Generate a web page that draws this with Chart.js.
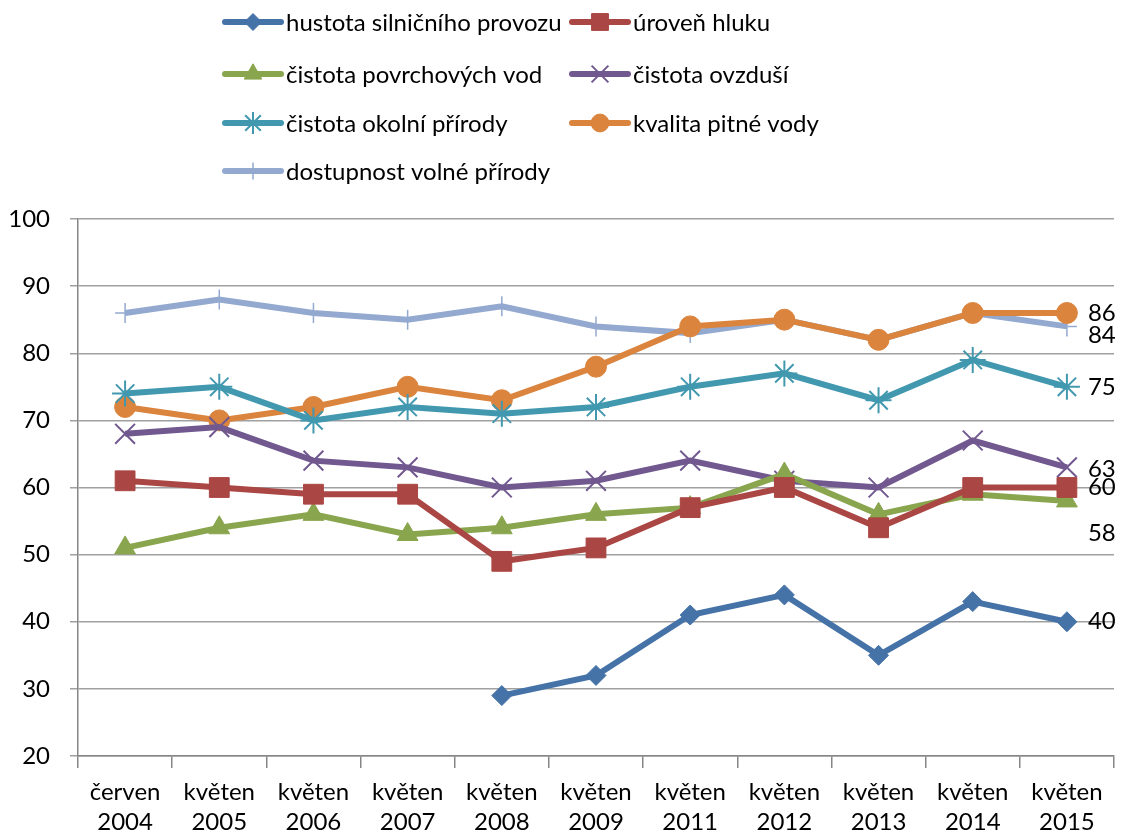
<!DOCTYPE html>
<html>
<head>
<meta charset="utf-8">
<script src="https://cdn.jsdelivr.net/npm/chart.js@4.4.1/dist/chart.umd.min.js"></script>
<style>
  body { margin: 0; background: #fff; }
  #wrap { width: 1122px; height: 832px; }
</style>
</head>
<body>
<div id="wrap"><canvas id="myChart" width="1122" height="832"></canvas></div>
<script>
// categories
var labels = [["červen","2004"],["květen","2005"],["květen","2006"],["květen","2007"],["květen","2008"],
  ["květen","2009"],["květen","2011"],["květen","2012"],["květen","2013"],["květen","2014"],["květen","2015"]];

// series values
var hustota   = [null, null, null, null, 29, 32, 41, 44, 35, 43, 40];
var hluk      = [61, 60, 59, 59, 49, 51, 57, 60, 54, 60, 60];
var vody      = [51, 54, 56, 53, 54, 56, 57, 62, 56, 59, 58];
var ovzdusi   = [68, 69, 64, 63, 60, 61, 64, 61, 60, 67, 63];
var okolni    = [74, 75, 70, 72, 71, 72, 75, 77, 73, 79, 75];
var pitna     = [72, 70, 72, 75, 73, 78, 84, 85, 82, 86, 86];
var dostupnost = [86, 88, 86, 85, 87, 84, 83, 85, 82, 86, 84];

var yTicks = [20, 30, 40, 50, 60, 70, 80, 90, 100];

var FONT = "Lato, 'Open Sans', sans-serif";
var FS = 24;

function ds(label, data, color, style, radius, bw) {
  return {
    label: label, data: data, borderColor: color, backgroundColor: color,
    borderWidth: 6, pointStyle: style, pointRadius: radius, pointHoverRadius: radius,
    pointBorderWidth: bw, pointBackgroundColor: color, pointBorderColor: color,
    tension: 0, fill: false, spanGaps: false
  };
}

var datasets = [
  ds('hustota silničního provozu', hustota, '#4572A7', 'rectRot', 10, 1),
  ds('úroveň hluku', hluk, '#AA4643', 'rect', 14, 1),
  ds('čistota povrchových vod', vody, '#89A54E', 'triangle', 12, 1),
  ds('čistota ovzduší', ovzdusi, '#71588F', 'crossRot', 14, 2),
  ds('čistota okolní přírody', okolni, '#4198AF', 'star', 13, 2),
  ds('kvalita pitné vody', pitna, '#DB843D', 'circle', 10.5, 1),
  ds('dostupnost volné přírody', dostupnost, '#93A9CF', 'cross', 10, 1.5)
];
// last-value label offsets (dy in px) per dataset
var endOffsets = [0, 0, 32, 2, 0, 0, 9];

var legendPlugin = {
  id: 'customLegend',
  afterDraw: function(chart) {
    var ctx = chart.ctx;
    var cols = [222, 569];
    var rows = [22, 74, 123, 171];
    ctx.save();
    chart.data.datasets.forEach(function(d, i) {
      var col = i % 2, row = Math.floor(i / 2);
      var x0 = cols[col], y = rows[row];
      ctx.strokeStyle = d.borderColor;
      ctx.lineWidth = 6;
      ctx.lineCap = 'round';
      ctx.beginPath();
      ctx.moveTo(x0 + 3, y);
      ctx.lineTo(x0 + 59, y);
      ctx.stroke();
      ctx.lineCap = 'butt';
      var H = Chart.helpers;
      ctx.fillStyle = d.borderColor;
      ctx.lineWidth = d.pointBorderWidth;
      if (H && H.drawPoint) {
        H.drawPoint(ctx, { pointStyle: d.pointStyle, radius: d.pointRadius * 0.85, borderWidth: d.pointBorderWidth, rotation: 0 }, x0 + 31, y);
      }
      ctx.fillStyle = '#000';
      ctx.font = FS + 'px ' + FONT;
      ctx.textBaseline = 'middle';
      ctx.textAlign = 'left';
      ctx.fillText(d.label, x0 + 64, y + 1);
    });
    ctx.restore();
  }
};

var endLabelPlugin = {
  id: 'endLabels',
  afterDatasetsDraw: function(chart) {
    var ctx = chart.ctx;
    ctx.save();
    ctx.fillStyle = '#000';
    ctx.font = FS + 'px ' + FONT;
    ctx.textBaseline = 'middle';
    ctx.textAlign = 'left';
    chart.data.datasets.forEach(function(d, i) {
      var meta = chart.getDatasetMeta(i);
      var last = d.data.length - 1;
      var pt = meta.data[last];
      if (!pt || d.data[last] == null) return;
      ctx.fillText(String(d.data[last]), pt.x + 21, pt.y + endOffsets[i]);
    });
    ctx.restore();
  }
};

var myChart = new Chart(document.getElementById('myChart'), {
  type: 'line',
  data: { labels: labels, datasets: datasets },
  options: {
    responsive: false,
    animation: false,
    layout: { autoPadding: false, padding: { top: 219, right: 8, left: 0, bottom: 0 } },
    plugins: { legend: { display: false }, tooltip: { enabled: false } },
    scales: {
      x: {
        offset: true,
        grid: { offset: true, drawOnChartArea: false, drawTicks: true, tickLength: 12, color: '#868686', lineWidth: 1.5 },
        border: { color: '#868686', width: 1.5 },
        ticks: { color: '#000', font: { family: FONT, size: FS, lineHeight: 1.25 }, padding: 9, maxRotation: 0, autoSkip: false },
        afterFit: function(s) { s.height = 76; s.paddingLeft = 0; s.paddingRight = 0; }
      },
      y: {
        min: 20, max: 100,
        afterBuildTicks: function(s) { s.ticks = yTicks.map(function(v) { return { value: v }; }); },
        grid: { color: '#a0a0a0', lineWidth: 1.5, tickLength: 8 },
        border: { color: '#868686', width: 1.5 },
        ticks: { color: '#000', font: { family: FONT, size: FS }, padding: 20 },
        afterFit: function(s) { s.width = 78; s.paddingTop = 0; s.paddingBottom = 0; }
      }
    }
  },
  plugins: [legendPlugin, endLabelPlugin]
});
</script>
</body>
</html>
